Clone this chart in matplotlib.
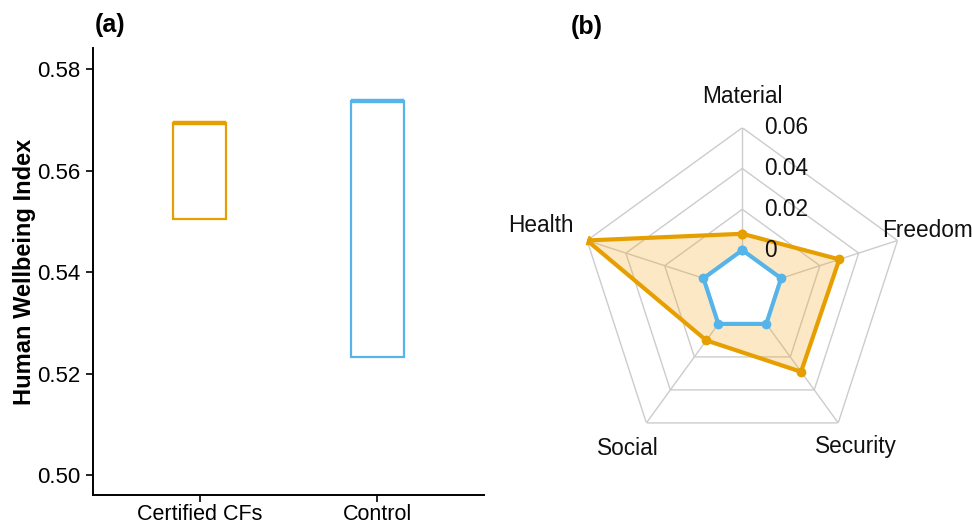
import numpy as np
import matplotlib
matplotlib.use("Agg")
import matplotlib.pyplot as plt

plt.rcParams['font.family'] = ['Liberation Sans', 'DejaVu Sans']

# ---- data ----
groups = ["Certified CFs", "Control"]
hwi_low = [0.5504, 0.5232]
hwi_high = [0.5695, 0.5738]
group_colors = ["#E69F00", "#56B4E9"]
yticks_a = [0.50, 0.52, 0.54, 0.56, 0.58]

dims = ["Material", "Health", "Social", "Security", "Freedom"]
certified_vals = [0.008, 0.060, 0.010, 0.029, 0.030]
control_vals = [0.0, 0.0, 0.0, 0.0, 0.0]
ring_levels = [0.0, 0.02, 0.04, 0.06]
ring_labels = ["0", "0.02", "0.04", "0.06"]

W, H = 972, 526
fig = plt.figure(figsize=(W / 100, H / 100), dpi=100)

# ---- panel (a) ----
ax = fig.add_axes([93 / W, (H - 495) / H, (484 - 93) / W, (495 - 48) / H])
xpos = np.arange(1, len(groups) + 1)
for x, lo, hi, c in zip(xpos, hwi_low, hwi_high, group_colors):
    ax.bar(x, hi - lo, bottom=lo, width=0.3, fill=False, edgecolor=c, linewidth=1.6)
    ax.hlines(hi, x - 0.15, x + 0.15, color=c, linewidth=3.2)
ax.set_xlim(0.4, 2.6)
ax.set_ylim(0.49606, 0.5842)
ax.set_xticks(xpos)
ax.set_xticklabels(groups)
ax.set_yticks(yticks_a)
ax.set_yticklabels([f"{v:.2f}" for v in yticks_a])
ax.tick_params(axis="y", labelsize=16, length=5, width=1.2, colors="black", pad=4)
ax.tick_params(axis="x", labelsize=15.5, length=5, width=1.2, colors="black", pad=1.5)
for s in ["top", "right"]:
    ax.spines[s].set_visible(False)
for s in ["left", "bottom"]:
    ax.spines[s].set_linewidth(1.4)
ax.set_ylabel("Human Wellbeing Index", fontsize=17, fontweight="bold", labelpad=1)
fig.text(110 / W, 1 - 25 / H, "(a)", fontsize=18, fontweight="bold", ha="center", va="center")

# ---- panel (b) radar ----
cx, cy, R = 742.3, 290.9, 163.2
axr = fig.add_axes([(cx - R) / W, (H - cy - R) / H, 2 * R / W, 2 * R / H], projection="polar")
axr.set_theta_zero_location("N")
axr.set_theta_direction(1)
axr.set_ylim(-0.02, 0.06)
axr.set_axis_off()

n = len(dims)
theta = np.arange(n) * 2 * np.pi / n
theta_c = np.append(theta, theta[0])
gridc = "#CCCCCC"
for lv in ring_levels:
    axr.plot(theta_c, [lv] * (n + 1), color=gridc, lw=1.0, zorder=1)
for t in theta:
    axr.plot([t, t], [ring_levels[0], ring_levels[-1]], color=gridc, lw=1.0, zorder=1)

cv = np.append(certified_vals, certified_vals[0])
axr.fill(theta_c, cv, color="#F9A51A", alpha=0.25, lw=0, zorder=2)
axr.plot(theta_c, cv, color="#E69F00", lw=3.0, marker="o", ms=6, zorder=4)

bv = np.append(control_vals, control_vals[0])
axr.fill(theta_c, bv, color="white", lw=0, zorder=3)
axr.plot(theta_c, bv, color="#56B4E9", lw=3.0, marker="o", ms=6, zorder=5)

for lv, lab in zip(ring_levels, ring_labels):
    axr.annotate(lab, xy=(0, lv), xytext=(22, 0), textcoords="offset pixels",
                 ha="left", va="center", fontsize=16.3, color="#111111", zorder=6)

label_r = [0.0752, 0.0840, 0.0752, 0.0745, 0.0756]
for t, d, r in zip(theta, dims, label_r):
    axr.text(t, r, d, ha="center", va="center", fontsize=16.3, color="#111111")
fig.text(587 / W, 1 - 27 / H, "(b)", fontsize=18, fontweight="bold", ha="center", va="center")

fig.savefig("out.png", dpi=100)
